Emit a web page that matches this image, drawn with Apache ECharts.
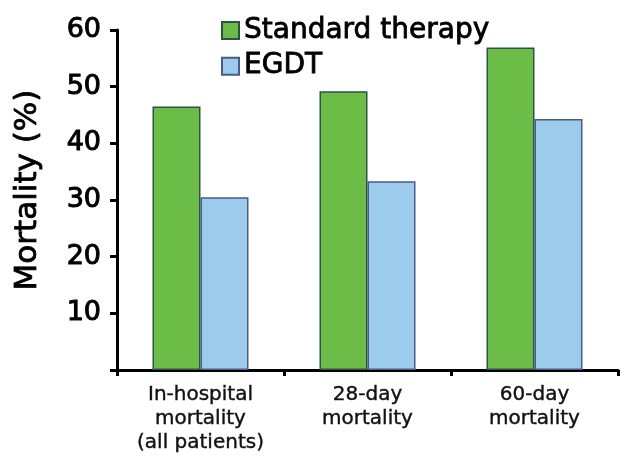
<!DOCTYPE html>
<html>
<head>
<meta charset="utf-8">
<script src="https://cdn.jsdelivr.net/npm/echarts@6/dist/echarts.min.js"></script>
<style>
  html, body { margin: 0; padding: 0; background: #fff; }
  #chart { width: 620px; height: 457px; }
</style>
</head>
<body>
<div id="chart"></div>
<script>
const categories = ['In-hospital\nmortality\n(all patients)', '28-day\nmortality', '60-day\nmortality']
const standardTherapy = [46.5, 49.2, 56.9]
const egdt = [30.5, 33.3, 44.3]
const yTicks = [10, 20, 30, 40, 50, 60]

const chart = echarts.init(document.getElementById('chart'))
const font = 'DejaVu Sans'

const option = {
  animation: false,
  textStyle: { fontFamily: font },
  legend: {
    orient: 'vertical',
    left: 216,
    top: 11,
    icon: 'rect',
    itemWidth: 17,
    itemHeight: 17,
    itemGap: 7,
    textStyle: {
      fontSize: 28, lineHeight: 28, color: '#000', fontFamily: font,
      textBorderColor: '#000', textBorderWidth: 0.8
    },
    data: ['Standard therapy', 'EGDT']
  },
  grid: { left: 117, right: 2, top: 30, bottom: 87, containLabel: false, outerBoundsMode: 'none' },
  xAxis: {
    type: 'category',
    data: categories,
    axisLine: { lineStyle: { color: '#000', width: 3 } },
    axisTick: { show: true, length: 6, lineStyle: { color: '#000', width: 3 } },
    axisLabel: {
      interval: 0, color: '#111', fontSize: 20, lineHeight: 24, margin: 13, fontFamily: font,
      textBorderColor: '#111', textBorderWidth: 0.4
    }
  },
  yAxis: {
    type: 'value',
    min: 0,
    max: 60,
    interval: 10,
    name: 'Mortality (%)',
    nameLocation: 'middle',
    nameGap: 74,
    nameTextStyle: {
      fontSize: 31, color: '#000', fontFamily: font,
      textBorderColor: '#000', textBorderWidth: 0.8,
      padding: [0, 0, 0, 20]
    },
    axisLine: { show: true, lineStyle: { color: '#000', width: 3 } },
    axisTick: { show: true, length: 7, lineStyle: { color: '#000', width: 3 } },
    splitLine: { show: false },
    axisLabel: {
      fontSize: 27,
      color: '#000',
      margin: 16,
      fontFamily: font,
      textBorderColor: '#000',
      textBorderWidth: 1,
      formatter: v => (yTicks.includes(v) ? String(v) : '')
    }
  },
  series: [
    {
      name: 'Standard therapy',
      type: 'bar',
      barWidth: 48,
      barGap: '0%',
      itemStyle: { color: '#6cbd48', borderColor: '#2f5245', borderWidth: 1.5 },
      data: standardTherapy
    },
    {
      name: 'EGDT',
      type: 'bar',
      barWidth: 48,
      itemStyle: { color: '#9ccbeb', borderColor: '#4a5c86', borderWidth: 1.5 },
      data: egdt
    }
  ]
}
chart.setOption(option)
</script>
</body>
</html>
